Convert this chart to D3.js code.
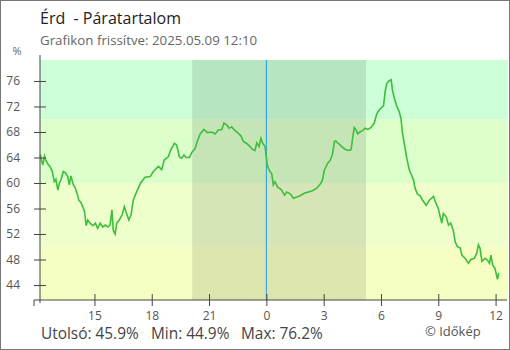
<!DOCTYPE html>
<html>
<head>
<meta charset="utf-8">
<script src="https://cdn.jsdelivr.net/npm/d3@7"></script>
<style>
  html, body { margin: 0; padding: 0; background: #fff; }
  svg { display: block; font-family: "Open Sans", "Noto Sans", sans-serif; }
</style>
</head>
<body>
<svg id="chart" width="510" height="350"></svg>
<script>
// Relative humidity, Érd — minutes from 2025-05-09 00:00 and readings in %
const minutes = [
  -710, -709, -702, -697, -692, -687, -680, -673, -666, -661, -655, -650, -645, -638, -631, -624,
  -619, -614, -606, -600, -593, -589, -582, -577, -571, -566, -561, -554, -545, -537, -530, -522,
  -514, -506, -498, -491, -485, -481, -475, -470, -462, -453, -446, -441, -432, -425, -418, -412,
  -395, -381, -365, -355, -339, -329, -321, -308, -300, -289, -282, -273, -266, -259, -252, -242,
  -234, -224, -217, -208, -196, -185, -172, -161, -151, -140, -133, -124, -117, -109, -98, -88,
  -80, -72, -62, -51, -44, -36, -30, -23, -17, -11, -4, -1, 3, 9, 17, 22,
  27, 36, 46, 57, 64, 75, 85, 96, 106, 119, 132, 145, 158, 169, 176, 182,
  193, 200, 207, 214, 218, 226, 237, 247, 258, 266, 270, 276, 281, 287, 294, 302,
  310, 319, 329, 339, 347, 357, 368, 373, 378, 385, 392, 396, 402, 410, 417, 423,
  427, 434, 441, 448, 451, 462, 467, 474, 483, 491, 502, 512, 525, 533, 540, 546,
  551, 556, 565, 572, 579, 587, 593, 600, 609, 614, 624, 635, 642, 653, 661, 666,
  671, 677, 687, 694, 701, 705, 711, 718, 726, 730
];
const humidity = [
  64.5, 64.1, 62.8, 64.2, 63.5, 63.0, 62.6, 61.9, 60.2, 60.6, 58.9, 60.0, 60.5, 61.8, 61.6, 61.0,
  59.7, 61.1, 59.7, 59.2, 58.1, 57.3, 56.9, 56.3, 55.5, 53.3, 54.2, 53.7, 53.3, 53.7, 52.9, 53.7,
  53.1, 53.4, 53.1, 53.4, 55.8, 52.6, 52.0, 53.7, 54.2, 55.0, 56.3, 55.5, 54.2, 55.0, 57.3, 58.1,
  60.0, 60.9, 61.0, 61.8, 62.6, 62.1, 63.6, 64.1, 65.2, 66.2, 66.0, 64.1, 63.9, 64.4, 64.0, 64.0,
  64.8, 65.4, 66.5, 67.7, 68.4, 67.9, 68.0, 67.7, 68.3, 68.4, 69.4, 69.1, 68.6, 68.8, 68.2, 67.8,
  67.4, 66.5, 66.2, 65.7, 65.3, 65.1, 66.3, 65.7, 67.0, 66.2, 65.7, 64.4, 62.8, 62.0, 61.4, 59.7,
  60.2, 59.3, 59.0, 58.1, 58.6, 58.3, 57.6, 57.8, 58.0, 58.4, 58.6, 58.8, 59.2, 59.8, 60.4, 62.0,
  63.1, 63.5, 64.4, 66.5, 66.6, 66.2, 65.7, 65.3, 65.1, 65.2, 66.7, 68.7, 68.4, 67.7, 68.0, 68.2,
  68.6, 68.4, 68.7, 69.4, 70.9, 71.6, 72.1, 74.3, 75.6, 76.0, 76.2, 74.6, 73.3, 72.0, 71.2, 70.1,
  68.0, 66.0, 63.9, 62.3, 61.8, 60.5, 59.2, 58.3, 58.0, 57.3, 56.5, 57.3, 57.9, 56.8, 56.0, 54.7,
  53.7, 55.2, 54.7, 53.4, 53.7, 52.6, 50.8, 50.0, 49.8, 48.7, 48.2, 47.4, 48.0, 48.2, 49.0, 50.3,
  49.8, 47.7, 48.2, 47.9, 47.4, 48.7, 47.1, 46.6, 44.9, 45.9
];

// Y axis tick values and humidity band limits (%)
const yTicks = [44, 48, 52, 56, 60, 64, 68, 72, 76];
const bandLimits = [50, 60, 70];
// Night period (sunset / sunrise) and the midnight marker, in minutes
const nightStart = -233;  // 20:07 on May 8
const nightEnd = 313;     // 05:13 on May 9
const todayMark = 0;

const title = "Érd  - Páratartalom";
const subtitle = "Grafikon frissítve: 2025.05.09 12:10";
const credit = "© Időkép";

const base = new Date(2025, 4, 9, 0, 0, 0);
const toDate = m => new Date(base.getTime() + m * 60000);
const data = minutes.map((m, i) => ({ t: toDate(m), v: humidity[i] }));

const svg = d3.select("#chart");
const W = 510, H = 350;
const plot = { left: 40, right: 508, top: 60, bottom: 300 };

const x = d3.scaleTime()
  .domain([toDate(-711), toDate(759)])
  .range([plot.left, plot.right]);
const y = d3.scaleLinear()
  .domain([41.65, 79.29])
  .range([plot.bottom, plot.top]);

// Outer frame
svg.append("rect")
  .attr("x", 0.5).attr("y", 0.5)
  .attr("width", W - 1).attr("height", H - 1)
  .attr("fill", "#fff").attr("stroke", "#777");

// Humidity bands
const bandColors = ["#f6ffc2", "#eeffcc", "#ddffcc", "#ccffd8"];
const edges = [y.domain()[0], ...bandLimits, y.domain()[1]];
for (let i = 0; i < edges.length - 1; i++) {
  svg.append("rect")
    .attr("x", plot.left)
    .attr("width", plot.right - plot.left)
    .attr("y", y(edges[i + 1]))
    .attr("height", y(edges[i]) - y(edges[i + 1]))
    .attr("fill", bandColors[i]);
}

// Night shading
svg.append("rect")
  .attr("x", x(toDate(nightStart)))
  .attr("width", x(toDate(nightEnd)) - x(toDate(nightStart)))
  .attr("y", plot.top)
  .attr("height", plot.bottom - plot.top)
  .attr("fill", "rgba(0,0,0,0.1)");

// Midnight marker
svg.append("line")
  .attr("x1", x(toDate(todayMark))).attr("x2", x(toDate(todayMark)))
  .attr("y1", plot.top).attr("y2", plot.bottom)
  .attr("stroke", "#2196e8").attr("stroke-width", 1);

// Humidity line
const line = d3.line()
  .x(d => x(d.t))
  .y(d => y(d.v));
svg.append("path")
  .datum(data)
  .attr("d", line)
  .attr("fill", "none")
  .attr("stroke", "#3cbf3c")
  .attr("stroke-width", 1.6)
  .attr("stroke-linejoin", "miter");

// Y axis
const yAxis = d3.axisLeft(y)
  .tickValues(yTicks)
  .tickSizeInner(6)
  .tickSizeOuter(0)
  .tickPadding(14);
const gy = svg.append("g")
  .attr("transform", `translate(${plot.left},0)`)
  .call(yAxis);
gy.select(".domain").remove();
gy.append("line")
  .attr("x1", 0).attr("x2", 0)
  .attr("y1", plot.top - 5).attr("y2", plot.bottom + 3)
  .attr("stroke", "#444");
gy.selectAll(".tick line").attr("x1", 6).attr("x2", -6).attr("stroke", "#444");
gy.selectAll(".tick text")
  .attr("fill", "#555")
  .style("font-size", "12px")
  .style("font-family", "'Open Sans', sans-serif");

// X axis
const xAxis = d3.axisBottom(x)
  .ticks(d3.timeHour.every(3))
  .tickFormat(d3.timeFormat("%-H"))
  .tickSizeInner(6)
  .tickSizeOuter(0)
  .tickPadding(5);
const gx = svg.append("g")
  .attr("transform", `translate(0,${plot.bottom})`)
  .call(xAxis);
gx.select(".domain").remove();
gx.append("line")
  .attr("x1", plot.left - 6).attr("x2", plot.right - 1)
  .attr("y1", 0).attr("y2", 0)
  .attr("stroke", "#444");
gx.append("line")
  .attr("x1", plot.left - 6).attr("x2", plot.left - 6)
  .attr("y1", 0).attr("y2", 6)
  .attr("stroke", "#444");
gx.selectAll(".tick line").attr("y1", -6).attr("y2", 6).attr("stroke", "#444");
gx.selectAll(".tick text")
  .attr("fill", "#555")
  .style("font-size", "12px")
  .style("font-family", "'Open Sans', sans-serif");

// Unit label
svg.append("text")
  .attr("x", 17).attr("y", 55)
  .attr("text-anchor", "middle")
  .attr("fill", "#666")
  .style("font-size", "11px")
  .text("%");

// Title and subtitle
svg.append("text")
  .attr("x", 40).attr("y", 24)
  .attr("fill", "#222")
  .style("font-size", "16px")
  .style("white-space", "pre")
  .attr("xml:space", "preserve")
  .text(title);
svg.append("text")
  .attr("x", 40).attr("y", 45)
  .attr("fill", "#666")
  .style("font-size", "13.3px")
  .text(subtitle);

// Summary figures
const fmt = v => v.toFixed(1) + "%";
const last = humidity[humidity.length - 1];
const minV = d3.min(humidity);
const maxV = d3.max(humidity);
const summary = [
  { label: "Utolsó: " + fmt(last), x: 41 },
  { label: "Min: " + fmt(minV), x: 151 },
  { label: "Max: " + fmt(maxV), x: 241 }
];
svg.selectAll("text.summary")
  .data(summary)
  .join("text")
  .attr("class", "summary")
  .attr("x", d => d.x)
  .attr("y", 339)
  .attr("fill", "#444")
  .style("font-size", "15.4px")
  .text(d => d.label);

svg.append("text")
  .attr("x", 425).attr("y", 336)
  .attr("fill", "#555")
  .style("font-size", "13px")
  .text(credit);
</script>
</body>
</html>
